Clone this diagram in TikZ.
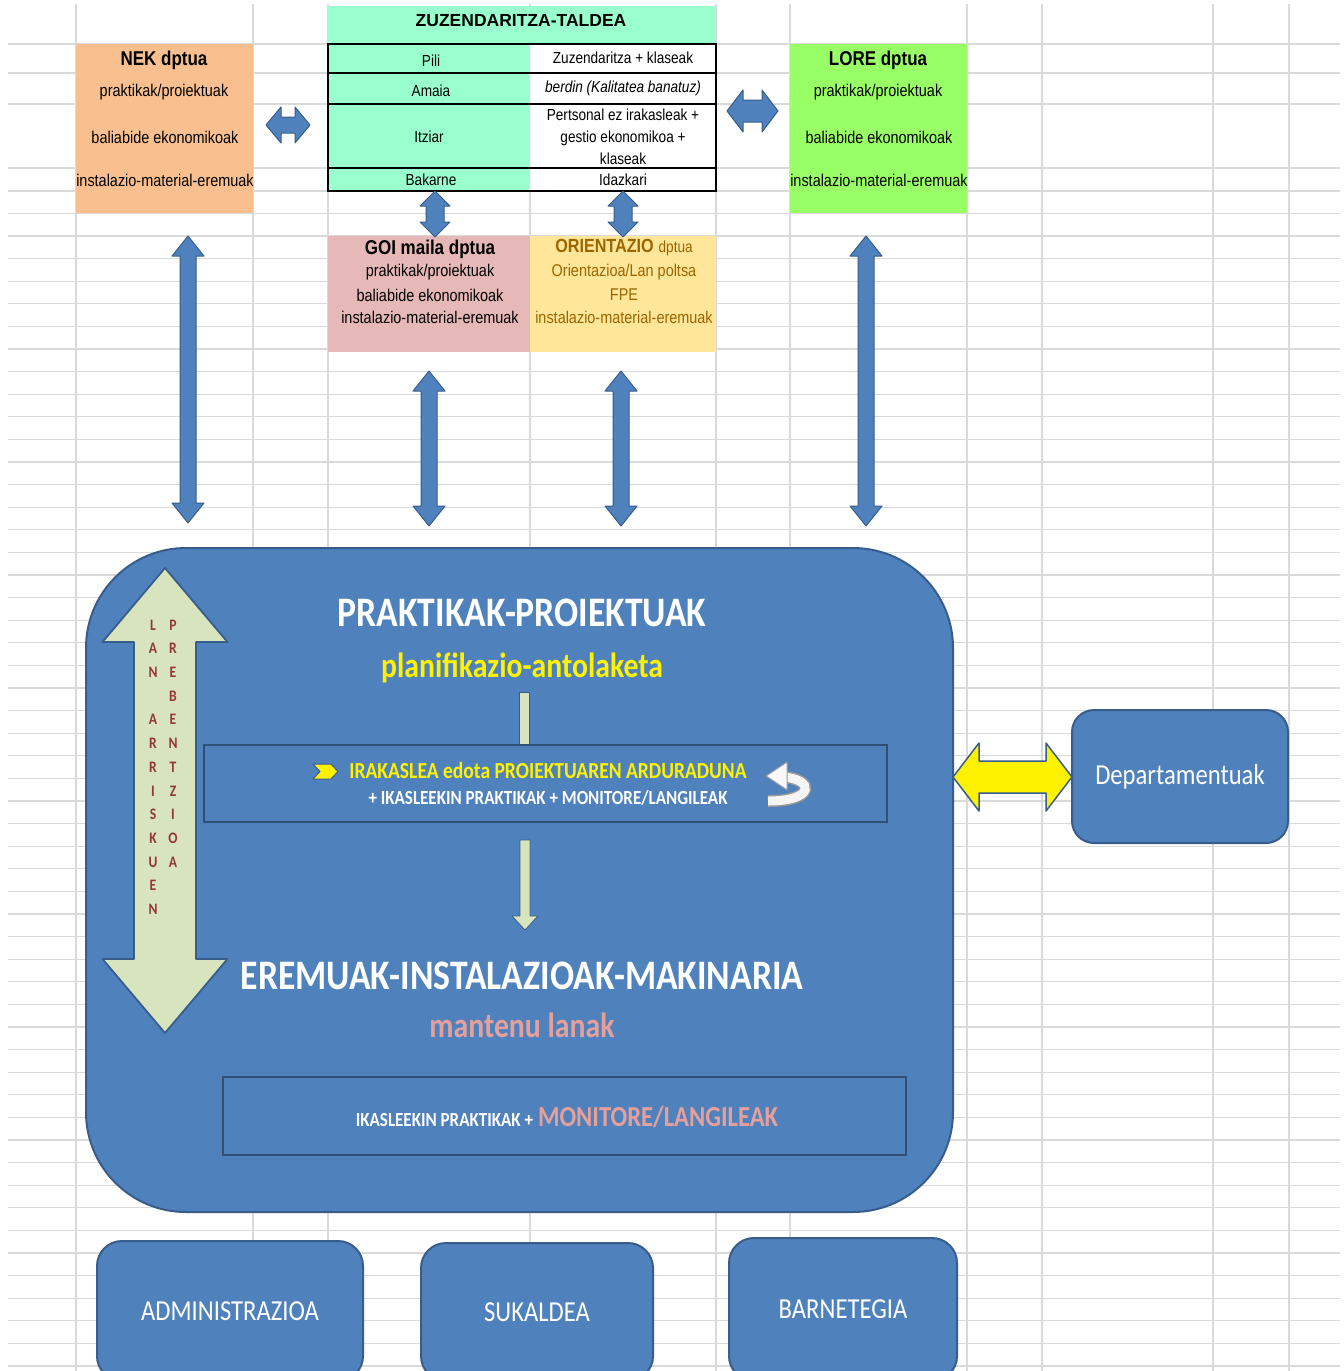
\documentclass[tikz,border=0pt]{standalone}
\usepackage{fontspec}
\setmainfont{Liberation Sans}[FakeStretch=0.85]
\newfontfamily\hdrfont{Liberation Sans}
\newfontfamily\calfont{Carlito}[FakeStretch=0.85]
\usetikzlibrary{calc}
\definecolor{bfill}{HTML}{4F81BD}
\definecolor{bdraw}{HTML}{385D8A}
\definecolor{mint}{HTML}{99FFCC}
\definecolor{peach}{HTML}{FABF8F}
\definecolor{lime}{HTML}{99FF66}
\definecolor{pinkbox}{HTML}{E6B8B7}
\definecolor{ltyel}{HTML}{FFE699}
\definecolor{brownt}{HTML}{9C6500}
\definecolor{ltgreen}{HTML}{D7E4BD}
\definecolor{maroon}{HTML}{953735}
\definecolor{salmon}{HTML}{E6A09B}
\definecolor{gridc}{HTML}{DADADA}
\newcommand\fsz[2]{\fontsize{#1}{#2}\selectfont}
% vertical double block arrow between two named coordinates
\newcommand\VBlock[6]{%
 \path[#1] let \p1=(#2), \p2=(#3) in
  (\x1,\y1) -- ({\x1+#5pt},{\y1-#6pt}) -- ({\x1+#4pt},{\y1-#6pt})
  -- ({\x2+#4pt},{\y2+#6pt}) -- ({\x2+#5pt},{\y2+#6pt}) -- (\x2,\y2)
  -- ({\x2-#5pt},{\y2+#6pt}) -- ({\x2-#4pt},{\y2+#6pt})
  -- ({\x1-#4pt},{\y1-#6pt}) -- ({\x1-#5pt},{\y1-#6pt}) -- cycle;}
% horizontal double block arrow between two named coordinates (left, right)
\newcommand\HBlock[6]{%
 \path[#1] let \p1=(#2), \p2=(#3) in
  (\x1,\y1) -- ({\x1+#6pt},{\y1+#5pt}) -- ({\x1+#6pt},{\y1+#4pt})
  -- ({\x2-#6pt},{\y2+#4pt}) -- ({\x2-#6pt},{\y2+#5pt}) -- (\x2,\y2)
  -- ({\x2-#6pt},{\y2-#5pt}) -- ({\x2-#6pt},{\y2-#4pt})
  -- ({\x1+#6pt},{\y1-#4pt}) -- ({\x1+#6pt},{\y1-#5pt}) -- cycle;}
\begin{document}
\begin{tikzpicture}[x=1pt,y=-1pt,
  every node/.style={inner sep=0pt,outer sep=0pt},
  gridline/.style={draw=gridc,line width=1.3pt},
  cellbox/.style={draw=none,anchor=center},
  blue arrow/.style={fill=bfill,draw=bdraw,line width=1pt,line join=round},
  roundbox/.style={fill=bfill,draw=bdraw,line width=2pt},
  innerbox/.style={fill=bfill,draw=bdraw!85!black,line width=2.5pt},
  celltxt/.style={font=\fsz{16}{18}},
  deptxt/.style={font=\fsz{17}{19}},
  dephead/.style={font=\fsz{20}{22}\bfseries},
  calw/.style={text=white,font=\calfont\fsz{29}{32}}]
\clip (0,0) rectangle (1344,1371);
\fill[white] (0,0) rectangle (1344,1371);
% ---------- grid ----------
\foreach \gx in {76,253,328,530,716,790,967,1042,1213,1289}
  \draw[gridline] (\gx,4) -- (\gx,1371);
\foreach \gy in {44,73,104,168,191}
  \draw[gridline] (8,\gy) -- (1340,\gy);
\foreach \k in {0,...,51}
  \draw[gridline] (8,{213.4+22.6*\k}) -- (1340,{213.4+22.6*\k});
% ---------- top boxes ----------
\node[cellbox,fill=mint,minimum width=388pt,minimum height=38pt] (hdr) at (522,25) {};
\node[font=\hdrfont\fsz{17.5}{19}\bfseries] (hdrt) at (521,21) {ZUZENDARITZA-TALDEA};
\node[cellbox,fill=mint,minimum width=202pt,minimum height=147pt] (tabl) at (429,117.5) {};
\node[cellbox,fill=white,minimum width=186pt,minimum height=147pt] (tabr) at (623,117.5) {};
\draw[black,line width=1.8pt] (tabl.north west) rectangle (tabr.south east);
\foreach \ty in {73,104,168} \draw[black,line width=1.8pt] (328,\ty) -- (716,\ty);
\node[celltxt] (c1) at (431,61) {Pili};
\node[celltxt] (c2) at (431,91) {Amaia};
\node[celltxt] (c3) at (429,137) {Itziar};
\node[celltxt] (c4) at (431,180) {Bakarne};
\node[celltxt] (d1) at (623,58) {Zuzendaritza + klaseak};
\node[celltxt,font=\fsz{16}{18}\itshape] (d2) at (623,88) {berdin (Kalitatea banatuz)};
\node[celltxt,align=center,font=\fsz{16}{22}] (d3) at (623,137) {Pertsonal ez irakasleak +\\gestio ekonomikoa +\\klaseak};
\node[celltxt] (d4) at (623,180) {Idazkari};

\node[cellbox,fill=peach,minimum width=177pt,minimum height=169pt] (nek) at (164.5,128.5) {};
\node[dephead] (nekh) at (164,60) {NEK dptua};
\node[deptxt] (nek1) at (164,92) {praktikak/proiektuak};
\node[deptxt] (nek2) at (165,137) {baliabide ekonomikoak};
\node[deptxt] (nek3) at (165,180) {instalazio-material-eremuak};

\node[cellbox,fill=lime,minimum width=177pt,minimum height=169pt] (lore) at (878.5,128.5) {};
\node[dephead] (loreh) at (878,60) {LORE dptua};
\node[deptxt] (lore1) at (878,92) {praktikak/proiektuak};
\node[deptxt] (lore2) at (879,137) {baliabide ekonomikoak};
\node[deptxt] (lore3) at (879,180) {instalazio-material-eremuak};

\node[cellbox,fill=pinkbox,minimum width=202pt,minimum height=116pt] (goi) at (429,294) {};
\node[dephead] (goih) at (430,249) {GOI maila dptua};
\node[deptxt] (goi1) at (430,272) {praktikak/proiektuak};
\node[deptxt] (goi2) at (430,295) {baliabide ekonomikoak};
\node[deptxt] (goi3) at (430,317) {instalazio-material-eremuak};

\node[cellbox,fill=ltyel,minimum width=186pt,minimum height=116pt] (ori) at (623,294) {};
\node[text=brownt] (orih) at (624,248) {{\fsz{19}{21}\bfseries ORIENTAZIO}\hspace{5pt}{\fsz{16}{18}dptua}};
\node[deptxt,text=brownt] (ori1) at (624,272) {Orientazioa/Lan poltsa};
\node[deptxt,text=brownt] (ori2) at (624,295) {FPE};
\node[deptxt,text=brownt] (ori3) at (624,317) {instalazio-material-eremuak};

% ---------- blue block arrows (top) ----------
\coordinate (hl1) at (266,125); \coordinate (hl2) at (310,125);
\coordinate (hr1) at (727,111); \coordinate (hr2) at (778,111);
\HBlock{blue arrow}{hl1}{hl2}{8}{18}{15}
\HBlock{blue arrow}{hr1}{hr2}{11}{21}{16}
\coordinate (vs1a) at (435,191); \coordinate (vs1b) at (435,237);
\coordinate (vs2a) at (623,191); \coordinate (vs2b) at (623,237);
\VBlock{blue arrow}{vs1a}{vs1b}{9}{15}{15}
\VBlock{blue arrow}{vs2a}{vs2b}{9}{15}{15}
\coordinate (va1) at (188,236); \coordinate (vb1) at (188,523);
\coordinate (va2) at (429,371); \coordinate (vb2) at (429,526);
\coordinate (va3) at (621,371); \coordinate (vb3) at (621,526);
\coordinate (va4) at (866,236); \coordinate (vb4) at (866,526);
\VBlock{blue arrow}{va1}{vb1}{8}{16}{20}
\VBlock{blue arrow}{va2}{vb2}{8}{16}{20}
\VBlock{blue arrow}{va3}{vb3}{8}{16}{20}
\VBlock{blue arrow}{va4}{vb4}{8}{16}{20}

% ---------- big rounded box ----------
\node[roundbox,rounded corners=100pt,minimum width=867pt,minimum height=664pt] (big) at (519.5,880) {};
\node[text=white,font=\calfont\fsz{42}{46}\bfseries] (prak) at (522,613) {PRAKTIKAK-PROIEKTUAK};
\node[text=yellow,font=\calfont\fsz{35}{38}\bfseries] (plan) at (522,668) {planifikazio-antolaketa};
\node[fill=ltgreen,draw=bdraw,line width=0.8pt,minimum width=10pt,minimum height=53pt] (bar) at (524,718.5) {};
\node[innerbox,minimum width=683pt,minimum height=77pt] (in1) at (545.5,783.5) {};
\path[fill=yellow,draw=bdraw,line width=1pt,line join=round] (313,764) -- (331,764) -- (338,771.5) -- (331,779) -- (313,779) -- (320,771.5) -- cycle;
\node[text=yellow,font=\calfont\fsz{23}{25}\bfseries] (irak) at (548,771) {IRAKASLEA edota PROIEKTUAREN ARDURADUNA};
\node[text=white,font=\calfont\fsz{20}{22}\bfseries] (ikas) at (548,798) {+ IKASLEEKIN PRAKTIKAK + MONITORE/LANGILEAK};
% u-turn icon
\draw[draw=gray!80,line width=12pt] (783,777) .. controls (814,779) and (816,801) .. (768,801);
\draw[draw=white!92!gray,line width=9pt] (783,777) .. controls (814,779) and (816,801) .. (768,801);
\path[fill=white!95!gray,draw=gray!80,line width=1pt,line join=round] (766,776) -- (787,762) -- (787,790) -- cycle;
% down arrow
\coordinate (dA) at (525,840); \coordinate (dB) at (525,930);
\path[fill=ltgreen,draw=bdraw,line width=0.8pt,line join=round] let \p1=(dA), \p2=(dB) in
  ({\x1-5pt},\y1) -- ({\x1+5pt},\y1) -- ({\x2+5pt},{\y2+14pt}) -- ({\x2+13pt},{\y2+14pt}) -- (\x2,\y2)
  -- ({\x2-13pt},{\y2+14pt}) -- ({\x2-5pt},{\y2+14pt}) -- cycle;
\node[text=white,font=\calfont\fsz{42}{46}\bfseries] (erem) at (522,976) {EREMUAK-INSTALAZIOAK-MAKINARIA};
\node[text=salmon,font=\calfont\fsz{35}{38}\bfseries] (mant) at (522,1025) {mantenu lanak};
\node[innerbox,minimum width=683pt,minimum height=78pt] (in2) at (564.5,1116) {};
\node[anchor=base,font=\calfont\bfseries] (ikas2) at (567,1126) {{\fsz{20}{22}\color{white}IKASLEEKIN PRAKTIKAK +}\hspace{5pt}{\fsz{29}{32}\color{salmon}MONITORE/LANGILEAK}};

% big light-green vertical arrow
\coordinate (lgA) at (165,568); \coordinate (lgB) at (165,1033);
\VBlock{fill=ltgreen,draw=bdraw,line width=1.8pt,line join=round}{lgA}{lgB}{31}{62.5}{74}
\foreach \ch [count=\i from 0] in {L,A,N,{},A,R,R,I,S,K,U,E,N}
  \node[text=maroon,font=\calfont\fsz{16}{17}\bfseries] (la\i) at (153,{625+23.7*\i}) {\ch};
\foreach \ch [count=\i from 0] in {P,R,E,B,E,N,T,Z,I,O,A}
  \node[text=maroon,font=\calfont\fsz{16}{17}\bfseries] (pr\i) at (173,{625+23.7*\i}) {\ch};

% ---------- Departamentuak ----------
\node[roundbox,rounded corners=22pt,minimum width=216pt,minimum height=133pt,calw] (dept) at (1180,776.5) {Departamentuak};
\coordinate (yA) at (953,777); \coordinate (yB) at (1072,777);
\HBlock{fill=yellow,draw=bdraw,line width=1.5pt,line join=round}{yA}{yB}{16}{34}{26}

% ---------- bottom boxes ----------
\node[roundbox,rounded corners=25pt,minimum width=266pt,minimum height=140pt,calw] (adm) at (230,1311) {ADMINISTRAZIOA};
\node[roundbox,rounded corners=25pt,minimum width=232pt,minimum height=138pt,calw] (suk) at (537,1312) {SUKALDEA};
\node[roundbox,rounded corners=25pt,minimum width=228pt,minimum height=143pt,calw] (barn) at (843,1309.5) {BARNETEGIA};
\end{tikzpicture}
\end{document}
